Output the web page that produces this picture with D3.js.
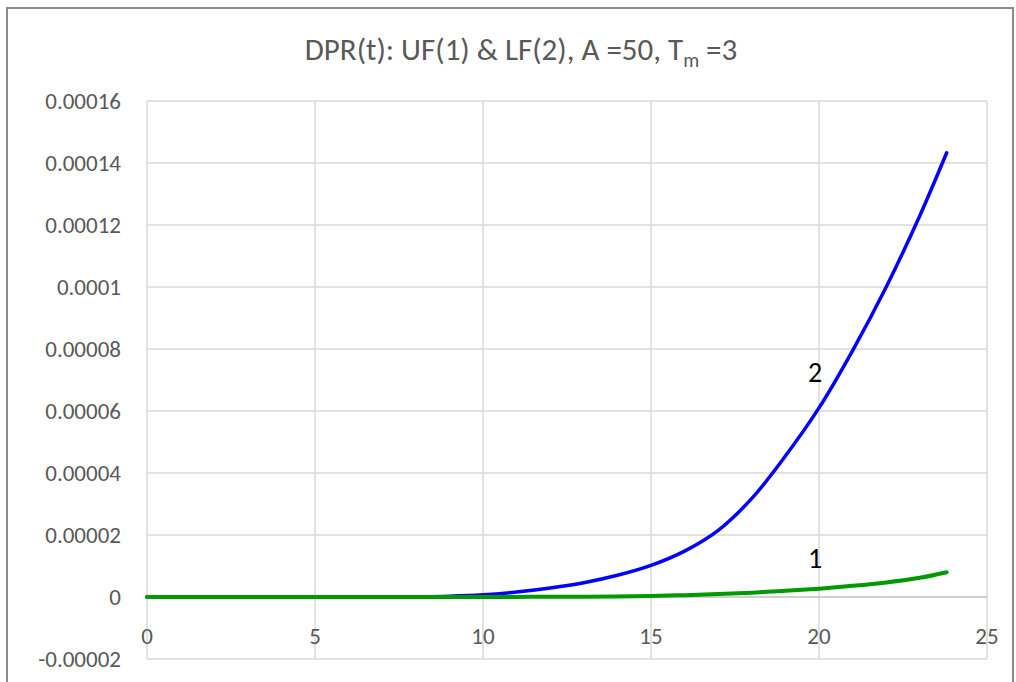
<!DOCTYPE html>
<html>
<head>
<meta charset="utf-8">
<script src="https://cdn.jsdelivr.net/npm/d3@7"></script>
<style>
  html, body { margin: 0; padding: 0; background: #ffffff; }
  svg { display: block; }
  text { font-family: Carlito, Calibri, Lato, "Open Sans", sans-serif; }
</style>
</head>
<body>
<svg id="chart" width="1016" height="682"></svg>
<script>
// Time points (t) shared by both curves
const tValues = [0, 1, 2, 3, 4, 5, 6, 7, 8, 9, 10, 11, 12, 13, 14, 15, 16, 17, 18, 19, 20, 21, 22, 23, 23.8];

// Curve 1: UF
const ufValues = [0, 0, 0, 0, 0, 0, 0, 0, 0, 0, 0, 0.00000003, 0.00000006, 0.0000001, 0.0000002,
  0.00000035, 0.0000006, 0.00000095, 0.0000014, 0.000002, 0.0000027, 0.0000036, 0.0000047, 0.0000062, 0.000008];

// Curve 2: LF
const lfValues = [0, 0, 0, 0, 0, 0, 0, 0.00000002, 0.00000008, 0.00000025, 0.0000007, 0.0000016, 0.0000029,
  0.0000046, 0.000007, 0.0000102, 0.0000148, 0.0000215, 0.0000318, 0.0000455, 0.000061, 0.0000795,
  0.0001, 0.000123, 0.0001433];

// Axis ticks
const xTicks = [0, 5, 10, 15, 20, 25];
const xTickLabels = ["0", "5", "10", "15", "20", "25"];
const yTicks = [-0.00002, 0, 0.00002, 0.00004, 0.00006, 0.00008, 0.0001, 0.00012, 0.00014, 0.00016];
const yTickLabels = ["-0.00002", "0", "0.00002", "0.00004", "0.00006", "0.00008", "0.0001", "0.00012", "0.00014", "0.00016"];

// Curve labels: [curve number, t, value]
const curveLabels = [["2", 20, 0.0000695], ["1", 20, 0.0000093]];

const svg = d3.select("#chart");

// Outer chart frame
svg.append("rect")
  .attr("x", 7).attr("y", 8).attr("width", 1006).attr("height", 690)
  .attr("fill", "#ffffff").attr("stroke", "#8c8c8c").attr("stroke-width", 2);

const x = d3.scaleLinear().domain([0, 25]).range([147, 987]);
const y = d3.scaleLinear().domain([-0.00002, 0.00016]).range([659, 101]);

// Gridlines
const grid = svg.append("g");
grid.selectAll("line.v").data(xTicks).join("line")
  .attr("x1", d => x(d)).attr("x2", d => x(d))
  .attr("y1", y(0.00016)).attr("y2", y(-0.00002))
  .attr("stroke", "#d9d9d9").attr("stroke-width", 1.5);
grid.selectAll("line.h").data(yTicks).join("line")
  .attr("x1", x(0)).attr("x2", x(25))
  .attr("y1", d => y(d)).attr("y2", d => y(d))
  .attr("stroke", d => d === 0 ? "#bfbfbf" : "#d9d9d9").attr("stroke-width", 1.5);

// Y tick labels
svg.append("g").selectAll("text").data(yTicks).join("text")
  .attr("x", 121).attr("y", d => y(d))
  .attr("dy", "0.35em")
  .attr("text-anchor", "end")
  .attr("font-size", 23).attr("fill", "#595959")
  .text((d, i) => yTickLabels[i]);

// X tick labels, hanging below the zero line
svg.append("g").selectAll("text").data(xTicks).join("text")
  .attr("x", d => x(d)).attr("y", y(0) + 39)
  .attr("dy", "0.35em")
  .attr("text-anchor", "middle")
  .attr("font-size", 23).attr("fill", "#595959")
  .text((d, i) => xTickLabels[i]);

// Curves
const line = d3.line()
  .x(d => x(d[0]))
  .y(d => y(d[1]))
  .curve(d3.curveCatmullRom.alpha(0.5));

const lfData = tValues.map((t, i) => [t, lfValues[i]]);
const ufData = tValues.map((t, i) => [t, ufValues[i]]);

svg.append("path").datum(lfData)
  .attr("d", line)
  .attr("fill", "none").attr("stroke", "#0000ff").attr("stroke-width", 3.5)
  .attr("stroke-linecap", "round").attr("stroke-linejoin", "round");

svg.append("path").datum(ufData)
  .attr("d", line)
  .attr("fill", "none").attr("stroke", "#009900").attr("stroke-width", 4)
  .attr("stroke-linecap", "round").attr("stroke-linejoin", "round");

// Curve number labels
svg.append("g").selectAll("text").data(curveLabels).join("text")
  .attr("x", d => x(d[1]) - 4).attr("y", d => y(d[2]))
  .attr("text-anchor", "middle")
  .attr("font-family", "'Liberation Sans', Arial, sans-serif")
  .attr("font-size", 28).attr("fill", "#000000")
  .text(d => d[0]);

// Title with subscript
const title = svg.append("text")
  .attr("x", 521).attr("y", 60)
  .attr("text-anchor", "middle")
  .attr("font-size", 31).attr("fill", "#595959");
title.append("tspan").text("DPR(t): UF(1) & LF(2), A =50, T");
title.append("tspan").attr("font-size", 20).attr("dy", 7).text("m");
title.append("tspan").attr("dy", -7).text(" =3");
</script>
</body>
</html>
